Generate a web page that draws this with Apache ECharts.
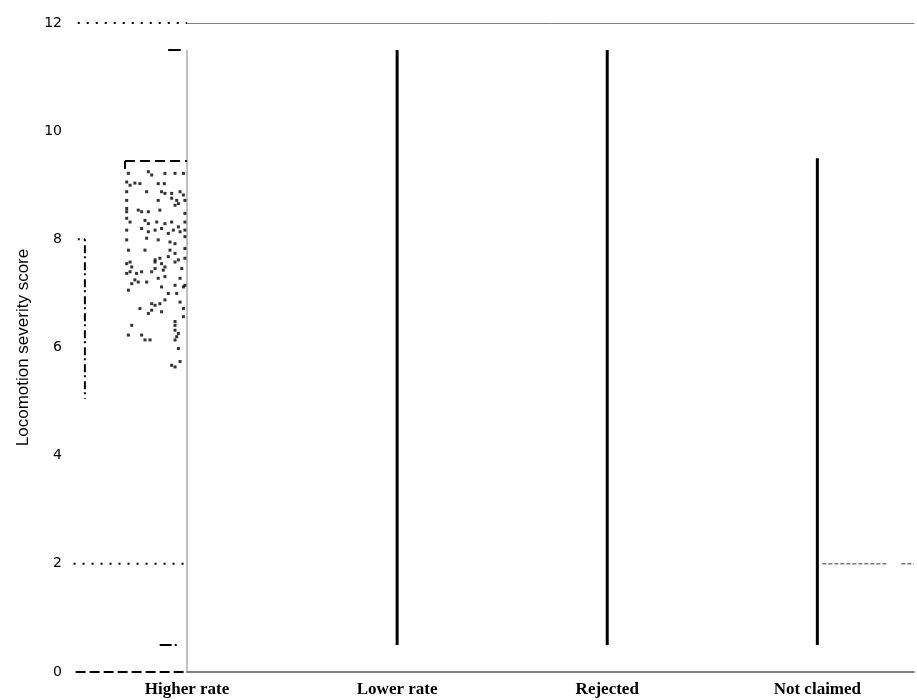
<!DOCTYPE html>
<html>
<head>
<meta charset="utf-8">
<script src="https://cdn.jsdelivr.net/npm/echarts@6/dist/echarts.min.js"></script>
<style>
  html, body { margin: 0; padding: 0; background: #fff; }
  #chart { width: 917px; height: 700px; }
</style>
</head>
<body>
<div id="chart"></div>
<script>
// categories on the x axis
const categories = ["Higher rate", "Lower rate", "Rejected", "Not claimed"];
const yTicks = [0, 2, 4, 6, 8, 10, 12];

// whiskers (category index, low, high)
const whiskerCat = [1, 2, 3];
const whiskerLow = [0.5, 0.5, 0.5];
const whiskerHigh = [11.5, 11.5, 9.5];

// higher rate: jittered scores [offset, score]
const higherRateJitter = [
  [-0.279, 9.22], [-0.184, 9.25], [-0.168, 9.19], [-0.105, 9.22], [-0.057, 9.22], [-0.017, 9.22],
  [-0.287, 9.06], [-0.271, 9.0], [-0.248, 9.04], [-0.224, 9.03], [-0.137, 9.03], [-0.108, 9.03],
  [-0.287, 8.88], [-0.192, 8.88], [-0.121, 8.88], [-0.105, 8.85], [-0.073, 8.85], [-0.033, 8.88], [-0.017, 8.82],
  [-0.287, 8.72], [-0.137, 8.72], [-0.073, 8.76], [-0.049, 8.72], [-0.01, 8.72],
  [-0.287, 8.57], [-0.287, 8.51], [-0.232, 8.54], [-0.216, 8.51], [-0.184, 8.51], [-0.129, 8.54],
  [-0.057, 8.63], [-0.041, 8.66], [-0.01, 8.48],
  [-0.287, 8.39], [-0.271, 8.32], [-0.2, 8.35], [-0.184, 8.29], [-0.144, 8.32], [-0.105, 8.29],
  [-0.073, 8.32], [-0.041, 8.23], [-0.01, 8.32],
  [-0.287, 8.17], [-0.216, 8.2], [-0.184, 8.14], [-0.152, 8.17], [-0.121, 8.2], [-0.089, 8.11],
  [-0.065, 8.17], [-0.033, 8.14], [-0.01, 8.17],
  [-0.287, 7.99], [-0.192, 8.02], [-0.137, 7.99], [-0.081, 7.95], [-0.057, 7.92], [-0.01, 8.05],
  [-0.279, 7.8], [-0.2, 7.8], [-0.081, 7.8], [-0.057, 7.74], [-0.01, 7.83],
  [-0.271, 7.58], [-0.152, 7.62], [-0.129, 7.65], [-0.089, 7.68], [-0.057, 7.58], [-0.01, 7.65],
  [-0.287, 7.55], [-0.263, 7.49], [-0.152, 7.58], [-0.121, 7.55], [-0.105, 7.49], [-0.041, 7.62],
  [-0.287, 7.37], [-0.271, 7.4], [-0.24, 7.37], [-0.216, 7.4], [-0.168, 7.4], [-0.152, 7.46],
  [-0.113, 7.43], [-0.025, 7.46],
  [-0.263, 7.18], [-0.248, 7.25], [-0.232, 7.21], [-0.192, 7.21], [-0.137, 7.28], [-0.105, 7.31],
  [-0.057, 7.15], [-0.033, 7.28], [-0.017, 7.12],
  [-0.279, 7.06], [-0.121, 7.12], [-0.089, 7.0], [-0.049, 7.0], [-0.01, 7.15],
  [-0.168, 6.81], [-0.152, 6.78], [-0.129, 6.81], [-0.105, 6.88], [-0.033, 6.84],
  [-0.224, 6.72], [-0.184, 6.63], [-0.168, 6.69], [-0.121, 6.66], [-0.017, 6.72],
  [-0.017, 6.57], [-0.057, 6.48], [-0.057, 6.41], [-0.263, 6.41], [-0.057, 6.32], [-0.041, 6.26],
  [-0.279, 6.23], [-0.216, 6.23], [-0.2, 6.14], [-0.176, 6.14], [-0.057, 6.14], [-0.049, 6.2],
  [-0.041, 5.98], [-0.073, 5.67], [-0.057, 5.64], [-0.033, 5.74]
];

// segments [x1, y1, x2, y2]
const higherRateStem = [[0, 0, 0, 11.5]];
const boxTop = [[-0.295, 9.45, 0, 9.45], [-0.295, 9.45, -0.295, 9.3]];
const caps = [[-0.09, 11.5, -0.03, 11.5]];
const capLow = [[-0.13, 0.5, -0.045, 0.5]];
// stray range line left of the axis
const strayRange = [[-0.52, 8.0, -0.486, 8.0], [-0.486, 8.0, -0.486, 5.05]];
// left guide lines at 12 and 2 (dotted) and 0 (dashed)
const guideDotted = [[-0.52, 12, 0, 12], [-0.54, 2, 0, 2]];
const guideDashed = [[-0.53, 0, 0, 0]];
// not claimed median (dashed, broken)
const notClaimedMedian = [[3.024, 2, 3.33, 2], [3.4, 2, 3.46, 2]];

const chart = echarts.init(document.getElementById("chart"));

function segSeries(segs, color, width, dash) {
  return {
    type: "custom",
    clip: false,
    silent: true,
    data: segs,
    renderItem: (params, api) => {
      const a = api.coord([api.value(0), api.value(1)]);
      const b = api.coord([api.value(2), api.value(3)]);
      return {
        type: "line",
        shape: { x1: a[0], y1: a[1], x2: b[0], y2: b[1] },
        style: { stroke: color, lineWidth: width, lineDash: dash || null },
      };
    },
  };
}

chart.setOption({
  animation: false,
  grid: { left: 187, right: 0, top: 23, bottom: 28 },
  xAxis: [
    {
      type: "value",
      min: 0,
      max: 3.46,
      interval: 1,
      splitLine: { show: false },
      axisTick: { show: false },
      axisLine: { lineStyle: { color: "#808080", width: 2 } },
      axisLabel: {
        margin: 9,
        color: "#000",
        fontFamily: "Liberation Serif",
        fontWeight: "bold",
        fontSize: 17,
        formatter: (v) => (Number.isInteger(v) && categories[v] ? categories[v] : ""),
      },
    },
    {
      type: "value",
      position: "top",
      min: 0,
      max: 3.46,
      splitLine: { show: false },
      axisTick: { show: false },
      axisLabel: { show: false },
      axisLine: { lineStyle: { color: "#808080", width: 1 } },
    },
  ],
  yAxis: {
    type: "value",
    min: yTicks[0],
    max: yTicks[yTicks.length - 1],
    interval: 2,
    name: "Locomotion severity score",
    nameLocation: "middle",
    nameGap: 155,
    nameTextStyle: { color: "#000", fontSize: 17, fontFamily: "Liberation Sans" },
    splitLine: { show: false },
    axisTick: { show: false },
    axisLine: { show: false },
    axisLabel: { margin: 125, color: "#000", fontSize: 14, fontFamily: "DejaVu Sans" },
  },
  series: [
    segSeries(guideDotted, "#000", 2, [2, 7]),
    segSeries(guideDashed, "#000", 2, [10, 4]),
    segSeries(higherRateStem, "#808080", 1, null),
    {
      type: "custom",
      clip: false,
      silent: true,
      data: whiskerCat.map((c, i) => [c, whiskerLow[i], c, whiskerHigh[i]]),
      renderItem: (params, api) => {
        const a = api.coord([api.value(0), api.value(1)]);
        const b = api.coord([api.value(2), api.value(3)]);
        return {
          type: "line",
          shape: { x1: a[0], y1: a[1], x2: b[0], y2: b[1] },
          style: { stroke: "#000", lineWidth: 3 },
        };
      },
    },
    {
      type: "scatter",
      clip: false,
      silent: true,
      symbol: "rect",
      symbolSize: 3,
      itemStyle: { color: "#000" },
      data: higherRateJitter,
    },
    segSeries(boxTop, "#000", 2, [10, 5]),
    segSeries(caps, "#000", 2, null),
    segSeries(capLow, "#000", 2, [12, 3, 2, 3]),
    segSeries(strayRange, "#000", 2, [2, 4, 8, 3]),
    segSeries(notClaimedMedian, "#333", 1, [4, 2]),
  ],
});
</script>
</body>
</html>
